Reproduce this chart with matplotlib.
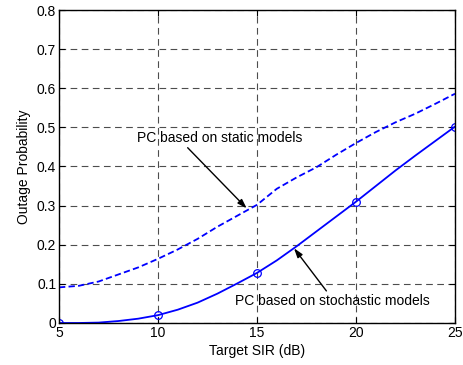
import numpy as np
import matplotlib
matplotlib.use('Agg')
import matplotlib.pyplot as plt

# -----------------------------------------------------------------------
sir_db = [5, 6, 7, 8, 9, 10, 11, 12, 13, 14, 15,
          16, 17, 18, 19, 20, 21, 22, 23, 24, 25]
outage_static = [0.091, 0.095, 0.106, 0.124, 0.142, 0.164, 0.188, 0.215,
                 0.246, 0.274, 0.302, 0.343, 0.372, 0.398, 0.430, 0.460,
                 0.488, 0.513, 0.535, 0.560, 0.586]
outage_stoch = [0.000, 0.000, 0.001, 0.005, 0.011, 0.020, 0.034, 0.052,
                0.075, 0.101, 0.128, 0.160, 0.196, 0.234, 0.272, 0.310,
                0.350, 0.390, 0.428, 0.465, 0.502]
xticks = [5, 10, 15, 20, 25]
yticks = [0, 0.1, 0.2, 0.3, 0.4, 0.5, 0.6, 0.7, 0.8]
ytick_labels = ['0', '0.1', '0.2', '0.3', '0.4', '0.5', '0.6', '0.7', '0.8']
# -----------------------------------------------------------------------

plt.rcParams['font.family'] = ['Liberation Sans', 'DejaVu Sans']
plt.rcParams['font.size'] = 10

fig = plt.figure(figsize=(4.63, 3.65), dpi=100)
ax = fig.add_axes([0.1274, 0.1151, 0.8553, 0.8575])

ax.plot(sir_db, outage_static, color='b', lw=1.3, linestyle=(0, (3.5, 1.8)))
ax.plot(sir_db, outage_stoch, color='b', lw=1.3, marker='o', markevery=5,
        markersize=5.5, markerfacecolor='none', markeredgewidth=0.9)

ax.set_xlim(5, 25)
ax.set_ylim(0, 0.8)
ax.set_xticks(xticks)
ax.set_yticks(yticks)
ax.set_yticklabels(ytick_labels)
ax.tick_params(direction='in', top=True, right=True, length=4, pad=2)
ax.grid(True, color='0.3', linestyle=(0, (6, 4)), lw=0.8)
for sp in ax.spines.values():
    sp.set_linewidth(1.0)

ax.set_xlabel('Target SIR (dB)', labelpad=3)
ax.set_ylabel('Outage Probability', labelpad=4)

arrow = '-|>,head_length=0.55,head_width=0.18'
ax.annotate('PC based on static models', xy=(14.48, 0.293), xytext=(8.94, 0.473),
            va='center', ha='left',
            arrowprops=dict(arrowstyle=arrow, color='k', lw=1,
                            mutation_scale=10, shrinkA=0, shrinkB=0,
                            relpos=(0.29, 0)))
ax.annotate('PC based on stochastic models', xy=(16.87, 0.191), xytext=(13.89, 0.057),
            va='center', ha='left',
            arrowprops=dict(arrowstyle=arrow, color='k', lw=1,
                            mutation_scale=10, shrinkA=0, shrinkB=0,
                            relpos=(0.48, 1)))

fig.savefig('out.png', dpi=100)
